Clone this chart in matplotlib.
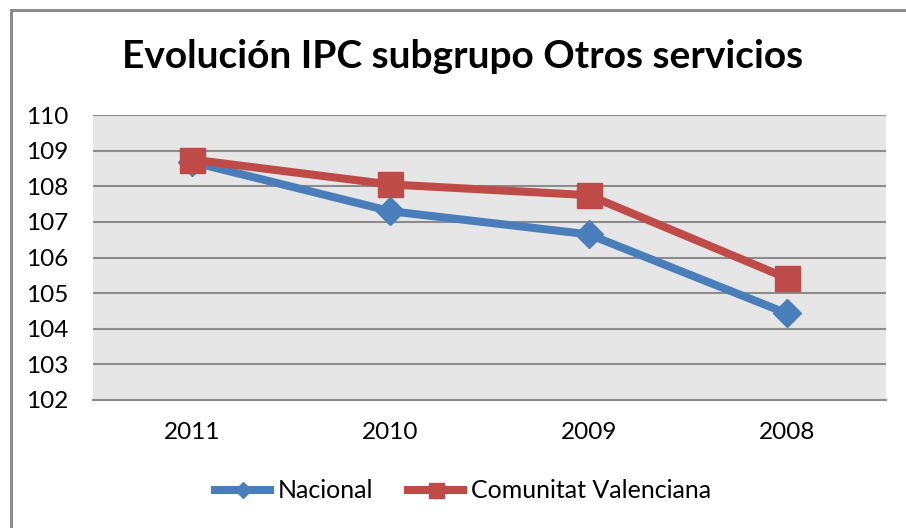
"""Evolución IPC subgrupo Otros servicios."""

import matplotlib

matplotlib.use("Agg")
import matplotlib.pyplot as plt
from matplotlib.patches import Rectangle

years = ["2011", "2010", "2009", "2008"]
nacional = [108.68, 107.3, 106.65, 104.43]
comunitat = [108.75, 108.05, 107.75, 105.42]
y_ticks = [102, 103, 104, 105, 106, 107, 108, 109, 110]

plt.rcParams["font.family"] = ["Lato", "DejaVu Sans"]

W, H = 906, 528
figure = plt.figure(figsize=(W / 100, H / 100), dpi=100)
axis = figure.add_axes([93 / W, 1 - 400 / H, (886 - 93) / W, (400 - 115) / H])

figure.patches.append(
    Rectangle((11 / W, -0.05), 1.2, 1 - 10 / H + 0.05, transform=figure.transFigure,
              fill=False, edgecolor="#8c8c8c", linewidth=2.2)
)

positions = list(range(len(years)))
axis.plot(positions, nacional, color="#4A7EBB", linewidth=5.8, marker="D",
          markersize=14, label="Nacional", solid_joinstyle="miter")
axis.plot(positions, comunitat, color="#BE4B48", linewidth=5.8, marker="s",
          markersize=18, label="Comunitat Valenciana", solid_joinstyle="miter")

axis.set_facecolor("#E6E6E6")
axis.set_xlim(-0.5, len(years) - 0.5)
axis.set_ylim(102, 110)
axis.set_yticks(y_ticks)
axis.set_xticks(positions)
axis.set_xticklabels(years)
axis.yaxis.grid(True, color="#8c8c8c", linewidth=1.5)
axis.set_axisbelow(True)
for side in ("top", "right", "left"):
    axis.spines[side].set_visible(False)
axis.spines["bottom"].set_color("#8c8c8c")
axis.spines["bottom"].set_linewidth(1.5)
axis.tick_params(axis="both", length=0, labelsize=17.5, colors="black")
axis.tick_params(axis="y", pad=18)
axis.tick_params(axis="x", pad=16)

figure.text(463 / W, 1 - 57 / H, "Evolución IPC subgrupo Otros servicios",
            ha="center", va="center", fontsize=28, fontweight="bold")

figure.legend(loc="center", bbox_to_anchor=(463 / W, 1 - 491 / H), ncol=2,
              frameon=False, fontsize=18, handlelength=2.2, columnspacing=1.4,
              handletextpad=0.3, markerscale=0.6)

figure.savefig("out.png", dpi=100)
